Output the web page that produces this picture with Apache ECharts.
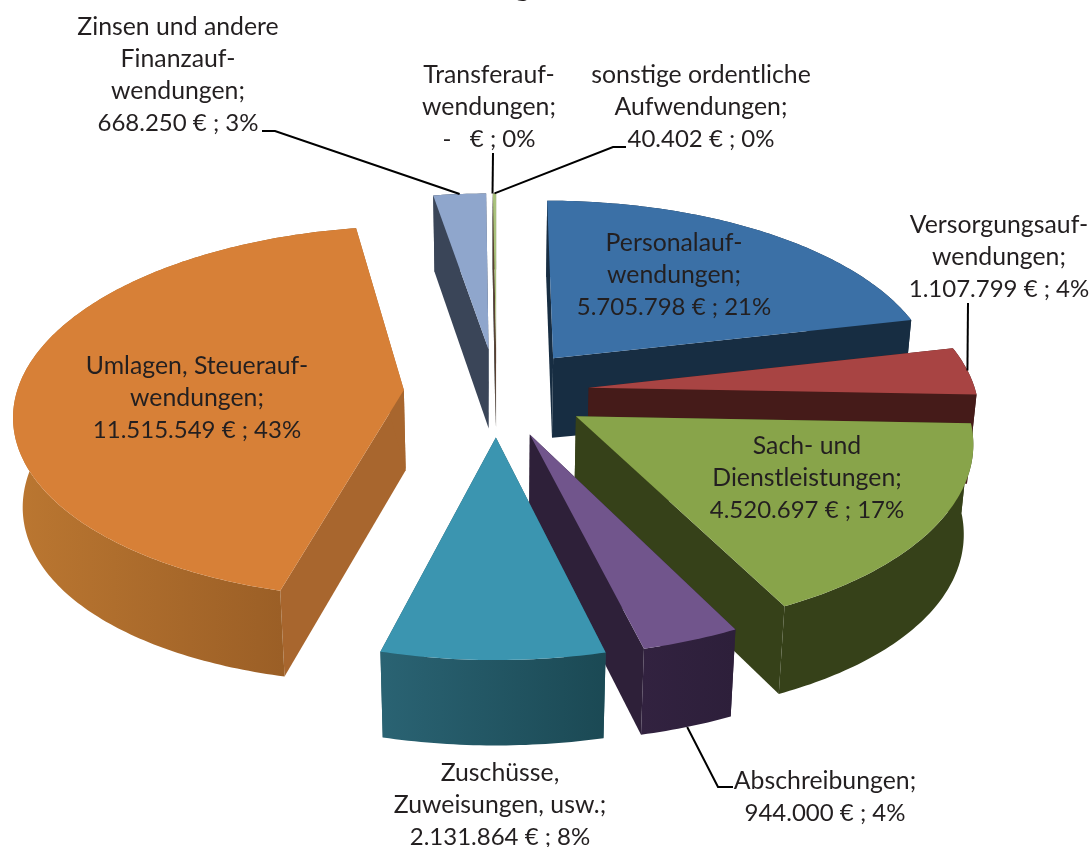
<!DOCTYPE html>
<html><head><meta charset="utf-8">
<style>html,body{margin:0;padding:0;background:#fff}#c{width:1091px;height:847px}</style>
<script src="https://cdn.jsdelivr.net/npm/echarts@6/dist/echarts.min.js"></script>
</head><body><div id="c"></div>
<script>
// ---- data (clockwise from the top of the pie) ----
const categories = ['Personalauf-\nwendungen;','Versorgungsauf-\nwendungen;','Sach- und\nDienstleistungen;','Abschreibungen;','Zuschüsse,\nZuweisungen, usw.;','Umlagen, Steuerauf-\nwendungen;','Zinsen und andere\nFinanzauf-\nwendungen;','Transferauf-\nwendungen;','sonstige ordentliche\nAufwendungen;'];
const values = [5705798,1107799,4520697,944000,2131864,11515549,668250,0,40402];
const valueLabels = ['5.705.798 € ; 21%','1.107.799 € ; 4%','4.520.697 € ; 17%','944.000 € ; 4%','2.131.864 € ; 8%','11.515.549 € ; 43%','668.250 € ; 3%','-   € ; 0%','40.402 € ; 0%'];

// ---- styles and layout ----
const topColors = ['#3b70a6','#a84443','#88a44a','#71558c','#3b95b0','#d78037','#8fa6cc','#a0a0a0','#a9c27c'];
const wallColors = [['#172d42','#172d42'],['#451b19','#451b19'],['#364119','#364119'],['#322240','#2d1f3a'],['#2a6373','#1b4954'],['#bb7731','#925823'],['#3a4558','#3a4558'],['#555','#555'],['#5a4030','#5a4030']];
const sideColors = ['#172d42','#451b19','#364119','#2e2039','#225562','#a8662e','#3a4558','#555','#5a4030'];
const drawOrder = [6,7,8,0,1,5,2,3,4];   // back to front
const labelPos = [[674,275],[999,257],[807,478],[825,797],[500,805],[197,398],[178,75],[489,107],[701,107]];
const FONT = 'Lato'; const FS_NAME = 24.8; const FS_VALUE = 24; const LH = 32.3;
// pie projection
const CX=496.5, CY=392, RX=387, RY=184, PERSP=0.12, EXPLODE=0.24;
const BOT_SCALE_X=0.98, BOT_SCALE_Y=1.02, BOT_Y0=470, BOT_Y_REF=390, BOT_BULGE=9;

const total = values.reduce((a,b)=>a+b,0);
function proj(u,v){const w=1/(1+PERSP*v);return [CX+RX*u*w, CY-RY*v*w];}
function drop(p){const d=(p[0]-CX)/480;return [CX+(p[0]-CX)*BOT_SCALE_X, BOT_Y0+BOT_SCALE_Y*(p[1]-BOT_Y_REF)+BOT_BULGE*d*d];}
function sliceGeom(i){
  let s=0;for(let k=0;k<i;k++)s+=values[k];
  const a0=s/total*2*Math.PI, a1=(s+values[i])/total*2*Math.PI, mid=(a0+a1)/2;
  const ex=EXPLODE*Math.sin(mid), ey=EXPLODE*Math.cos(mid);
  const apex=proj(ex,ey), arc=[];
  const n=Math.max(2,Math.ceil((a1-a0)/0.015));
  for(let k=0;k<=n;k++){const a=a0+(a1-a0)*k/n;arc.push(proj(ex+Math.sin(a),ey+Math.cos(a)));}
  return {apex,arc,at:f=>{const a=a0+(a1-a0)*f;return proj(ex+Math.sin(a),ey+Math.cos(a));}};
}
// leader lines: pie anchor (slice index, position along the arc, on the bottom rim?) and elbow points
const leaders = [
  {i:6,f:0.5,bottom:false,pts:[[275,131],[262,131]]},
  {i:7,f:0.5,bottom:false,pts:[[493,153]]},
  {i:8,f:0.5,bottom:false,pts:[[613,147],[626,147]]},
  {i:1,f:0.49,bottom:false,pts:[[968,303]]},
  {i:3,f:0.5,bottom:true,pts:[[718,787],[733,787]]}
];

function renderItem(params,api){
  const i=params.dataIndex, g=sliceGeom(i), rank=drawOrder.indexOf(i)*10+10;
  const children=[];
  const bArc=g.arc.map(drop), bApex=drop(g.apex);
  const poly=(pts,fill,z)=>children.push({type:'polygon',z2:z,shape:{points:pts},style:{fill:fill,stroke:null},silent:true});
  poly([g.apex,g.arc[0],bArc[0],bApex],sideColors[i],rank);
  poly([g.apex,g.arc[g.arc.length-1],bArc[bArc.length-1],bApex],sideColors[i],rank);
  poly(g.arc.concat(bArc.slice().reverse()),new echarts.graphic.LinearGradient(0,0,1,0,[{offset:0,color:wallColors[i][0]},{offset:1,color:wallColors[i][1]}]),rank+1);
  poly([g.apex].concat(g.arc),topColors[i],rank+2);
  // label, one text per line
  const nameLines=categories[i].split('\n'), n=nameLines.length+1;
  nameLines.concat(valueLabels[i]).forEach((t,k)=>{
    children.push({type:'text',z2:500,silent:true,style:{text:t,x:labelPos[i][0],y:labelPos[i][1]+(k-(n-1)/2)*LH,align:'center',verticalAlign:'middle',fontFamily:FONT,fontSize:k<n-1?FS_NAME:FS_VALUE,fill:'#231f20'}});
  });
  leaders.filter(l=>l.i===i).forEach(l=>{
    let p=g.at(l.f); if(l.bottom)p=drop(p);
    children.push({type:'polyline',z2:l.bottom?rank-1:400,silent:true,shape:{points:[p].concat(l.pts)},style:{stroke:'#000',lineWidth:2,fill:null}});
  });
  return {type:'group',children:children};
}

const chart=echarts.init(document.getElementById('c'),null,{renderer:'canvas',width:1091,height:847});
chart.setOption({
  animation:false,
  backgroundColor:'#fff',
  title:{text:'Aufwendungen',left:332,top:-38,textStyle:{fontFamily:FONT,fontSize:34,fontWeight:'bold',color:'#231f20'}},
  series:[{type:'custom',coordinateSystem:'none',renderItem:renderItem,data:values.map((v,i)=>({name:categories[i],value:[v]})),clip:false,silent:true}]
});
</script></body></html>
